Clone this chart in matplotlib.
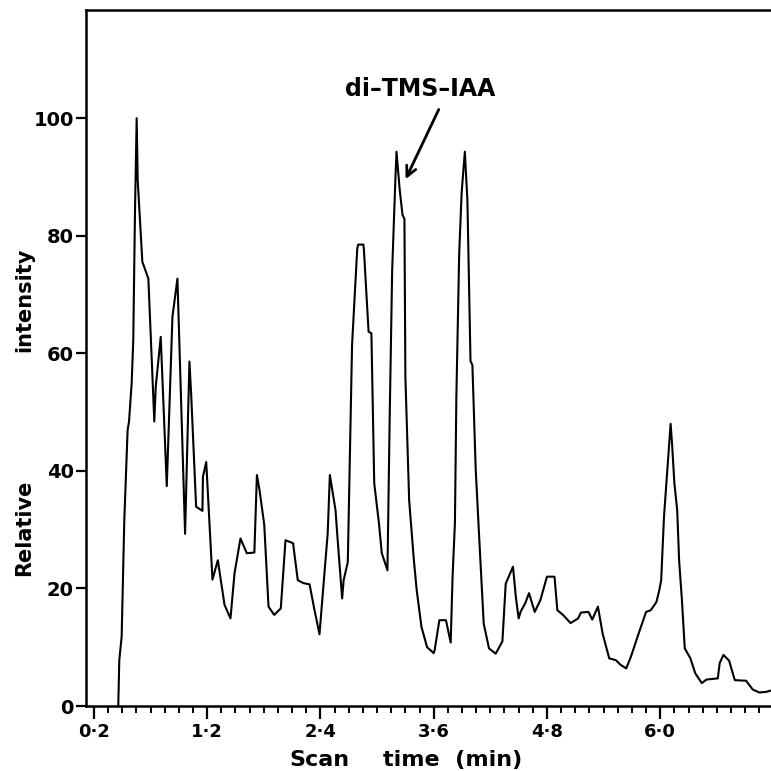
import numpy as np
import matplotlib
matplotlib.use("Agg")
import matplotlib.pyplot as plt
from matplotlib.ticker import MultipleLocator

scan_time = [0.258, 0.269, 0.294, 0.322, 0.357, 0.372, 0.40, 0.417, 0.435, 0.453,
             0.464, 0.513, 0.577, 0.64, 0.655, 0.708, 0.772, 0.832, 0.885, 0.966,
             1.012, 1.03, 1.083, 1.15, 1.155, 1.19, 1.256, 1.313, 1.384, 1.447,
             1.49, 1.553, 1.62, 1.70, 1.727, 1.755, 1.805, 1.85, 1.91, 1.98,
             2.03, 2.11, 2.16, 2.22, 2.285, 2.33, 2.39, 2.477, 2.50, 2.56,
             2.58, 2.63, 2.646, 2.69, 2.71, 2.735, 2.753, 2.79, 2.80, 2.855,
             2.86, 2.91, 2.94, 2.97, 3.02, 3.05, 3.11, 3.135, 3.16, 3.195,
             3.206, 3.24, 3.27, 3.29, 3.30, 3.34, 3.39, 3.42, 3.47, 3.53,
             3.60, 3.61, 3.66, 3.73, 3.78, 3.80, 3.825, 3.84, 3.87, 3.896,
             3.93, 3.957, 3.99, 4.01, 4.045, 4.08, 4.13, 4.186, 4.257, 4.328,
             4.363, 4.44, 4.47, 4.50, 4.52, 4.57, 4.61, 4.67, 4.73, 4.80,
             4.88, 4.91, 4.97, 5.05, 5.13, 5.16, 5.24, 5.28, 5.34, 5.39,
             5.46, 5.53, 5.58, 5.64, 5.69, 5.76, 5.85, 5.90, 5.96, 5.99,
             6.01, 6.04, 6.09, 6.11, 6.125, 6.15, 6.18, 6.20, 6.23, 6.26,
             6.32, 6.37, 6.44, 6.49, 6.61, 6.63, 6.67, 6.73, 6.79, 6.91,
             6.98, 7.05, 7.12, 7.19]
rel_intensity = [0, 7.8, 11.8, 31.6, 46.9, 48.4, 54.9, 62.2, 83.8, 100,
                 89.5, 75.6, 72.7, 48.4, 54.3, 62.8, 37.4, 66.2, 72.7, 29.3,
                 58.6, 53.2, 33.9, 33.2, 39, 41.5, 21.5, 24.8, 17.2, 14.9,
                 22.6, 28.5, 26, 26.1, 39.3, 36.7, 30.8, 16.9, 15.5, 16.6,
                 28.2, 27.7, 21.4, 20.9, 20.7, 16.9, 12.2, 29.4, 39.3, 33.3,
                 28.8, 18.3, 21.4, 24.5, 40.7, 61.4, 66.8, 77.8, 78.5, 78.5,
                 77.8, 63.7, 63.4, 37.9, 31.1, 26, 23.1, 50.3, 74.1, 90,
                 94.3, 87.8, 83.5, 82.9, 56, 35, 24.8, 19.7, 13.5, 10,
                 9, 9.5, 14.6, 14.6, 10.8, 22, 31.2, 52.5, 76.9, 87.3,
                 94.3, 86.1, 58.7, 58, 40.3, 29.3, 14, 9.8, 8.9, 11,
                 20.8, 23.7, 18.6, 14.9, 16, 17.5, 19.2, 16, 18, 22,
                 22, 16.3, 15.5, 14.1, 14.9, 15.9, 16, 14.7, 16.9, 12.3,
                 8.1, 7.8, 7, 6.4, 8.4, 11.8, 16, 16.3, 17.7, 19.7,
                 21.4, 32.2, 43.5, 48, 44.7, 37.9, 33.3, 24.8, 18, 9.8,
                 8.1, 5.6, 3.9, 4.5, 4.7, 7.3, 8.7, 7.7, 4.4, 4.3,
                 2.8, 2.3, 2.4, 2.7]

xtick_pos = [0, 1.2, 2.4, 3.6, 4.8, 6.0]
xtick_labels = ['0·2', '1·2', '2·4', '3·6', '4·8', '6·0']
ytick_pos = [0, 20, 40, 60, 80, 100]


fig = plt.figure(figsize=(7.71, 7.71), dpi=100)
ax = fig.add_axes([0.112, 0.0843, 0.89, 0.9027])

ax.plot(scan_time, rel_intensity, color='black', lw=1.5)

ax.set_xlim(-0.08, 7.19)
ax.set_ylim(0, 118.4)

ax.set_xticks(xtick_pos)
ax.set_xticklabels(xtick_labels, fontsize=13, fontweight='bold')
ax.xaxis.set_minor_locator(MultipleLocator(0.15))
ax.set_yticks(ytick_pos)
ax.set_yticklabels([str(v) for v in ytick_pos], fontsize=14, fontweight='bold')

ax.tick_params(axis='x', which='major', direction='out', length=9, width=1.6, pad=3)
ax.tick_params(axis='x', which='minor', direction='out', length=5, width=1.4)
ax.tick_params(axis='y', direction='out', length=7, width=1.6, pad=2)

for s in ['left', 'bottom', 'top']:
    ax.spines[s].set_linewidth(1.8)
ax.spines['right'].set_visible(False)

# rótulos dos eixos, separados como no original
fig.text(24 / 771, 1 - 528 / 771, 'Relative', rotation=90, ha='center', va='center',
         fontsize=15, fontweight='bold')
fig.text(24 / 771, 1 - 300 / 771, 'intensity', rotation=90, ha='center', va='center',
         fontsize=15, fontweight='bold')
fig.text(319 / 771, 1 - 760 / 771, 'Scan', ha='center', va='center',
         fontsize=16, fontweight='bold')
fig.text(453 / 771, 1 - 760 / 771, 'time  (min)', ha='center', va='center',
         fontsize=16, fontweight='bold')

# anotação do pico
ax.text(3.46, 105, 'di–TMS–IAA', ha='center', va='center', fontsize=17, fontweight='bold')
ax.annotate('', xy=(3.29, 89.2), xytext=(3.666, 101.9),
            arrowprops=dict(arrowstyle='->', lw=2, color='black', mutation_scale=18))

fig.savefig('out.png', dpi=100)
